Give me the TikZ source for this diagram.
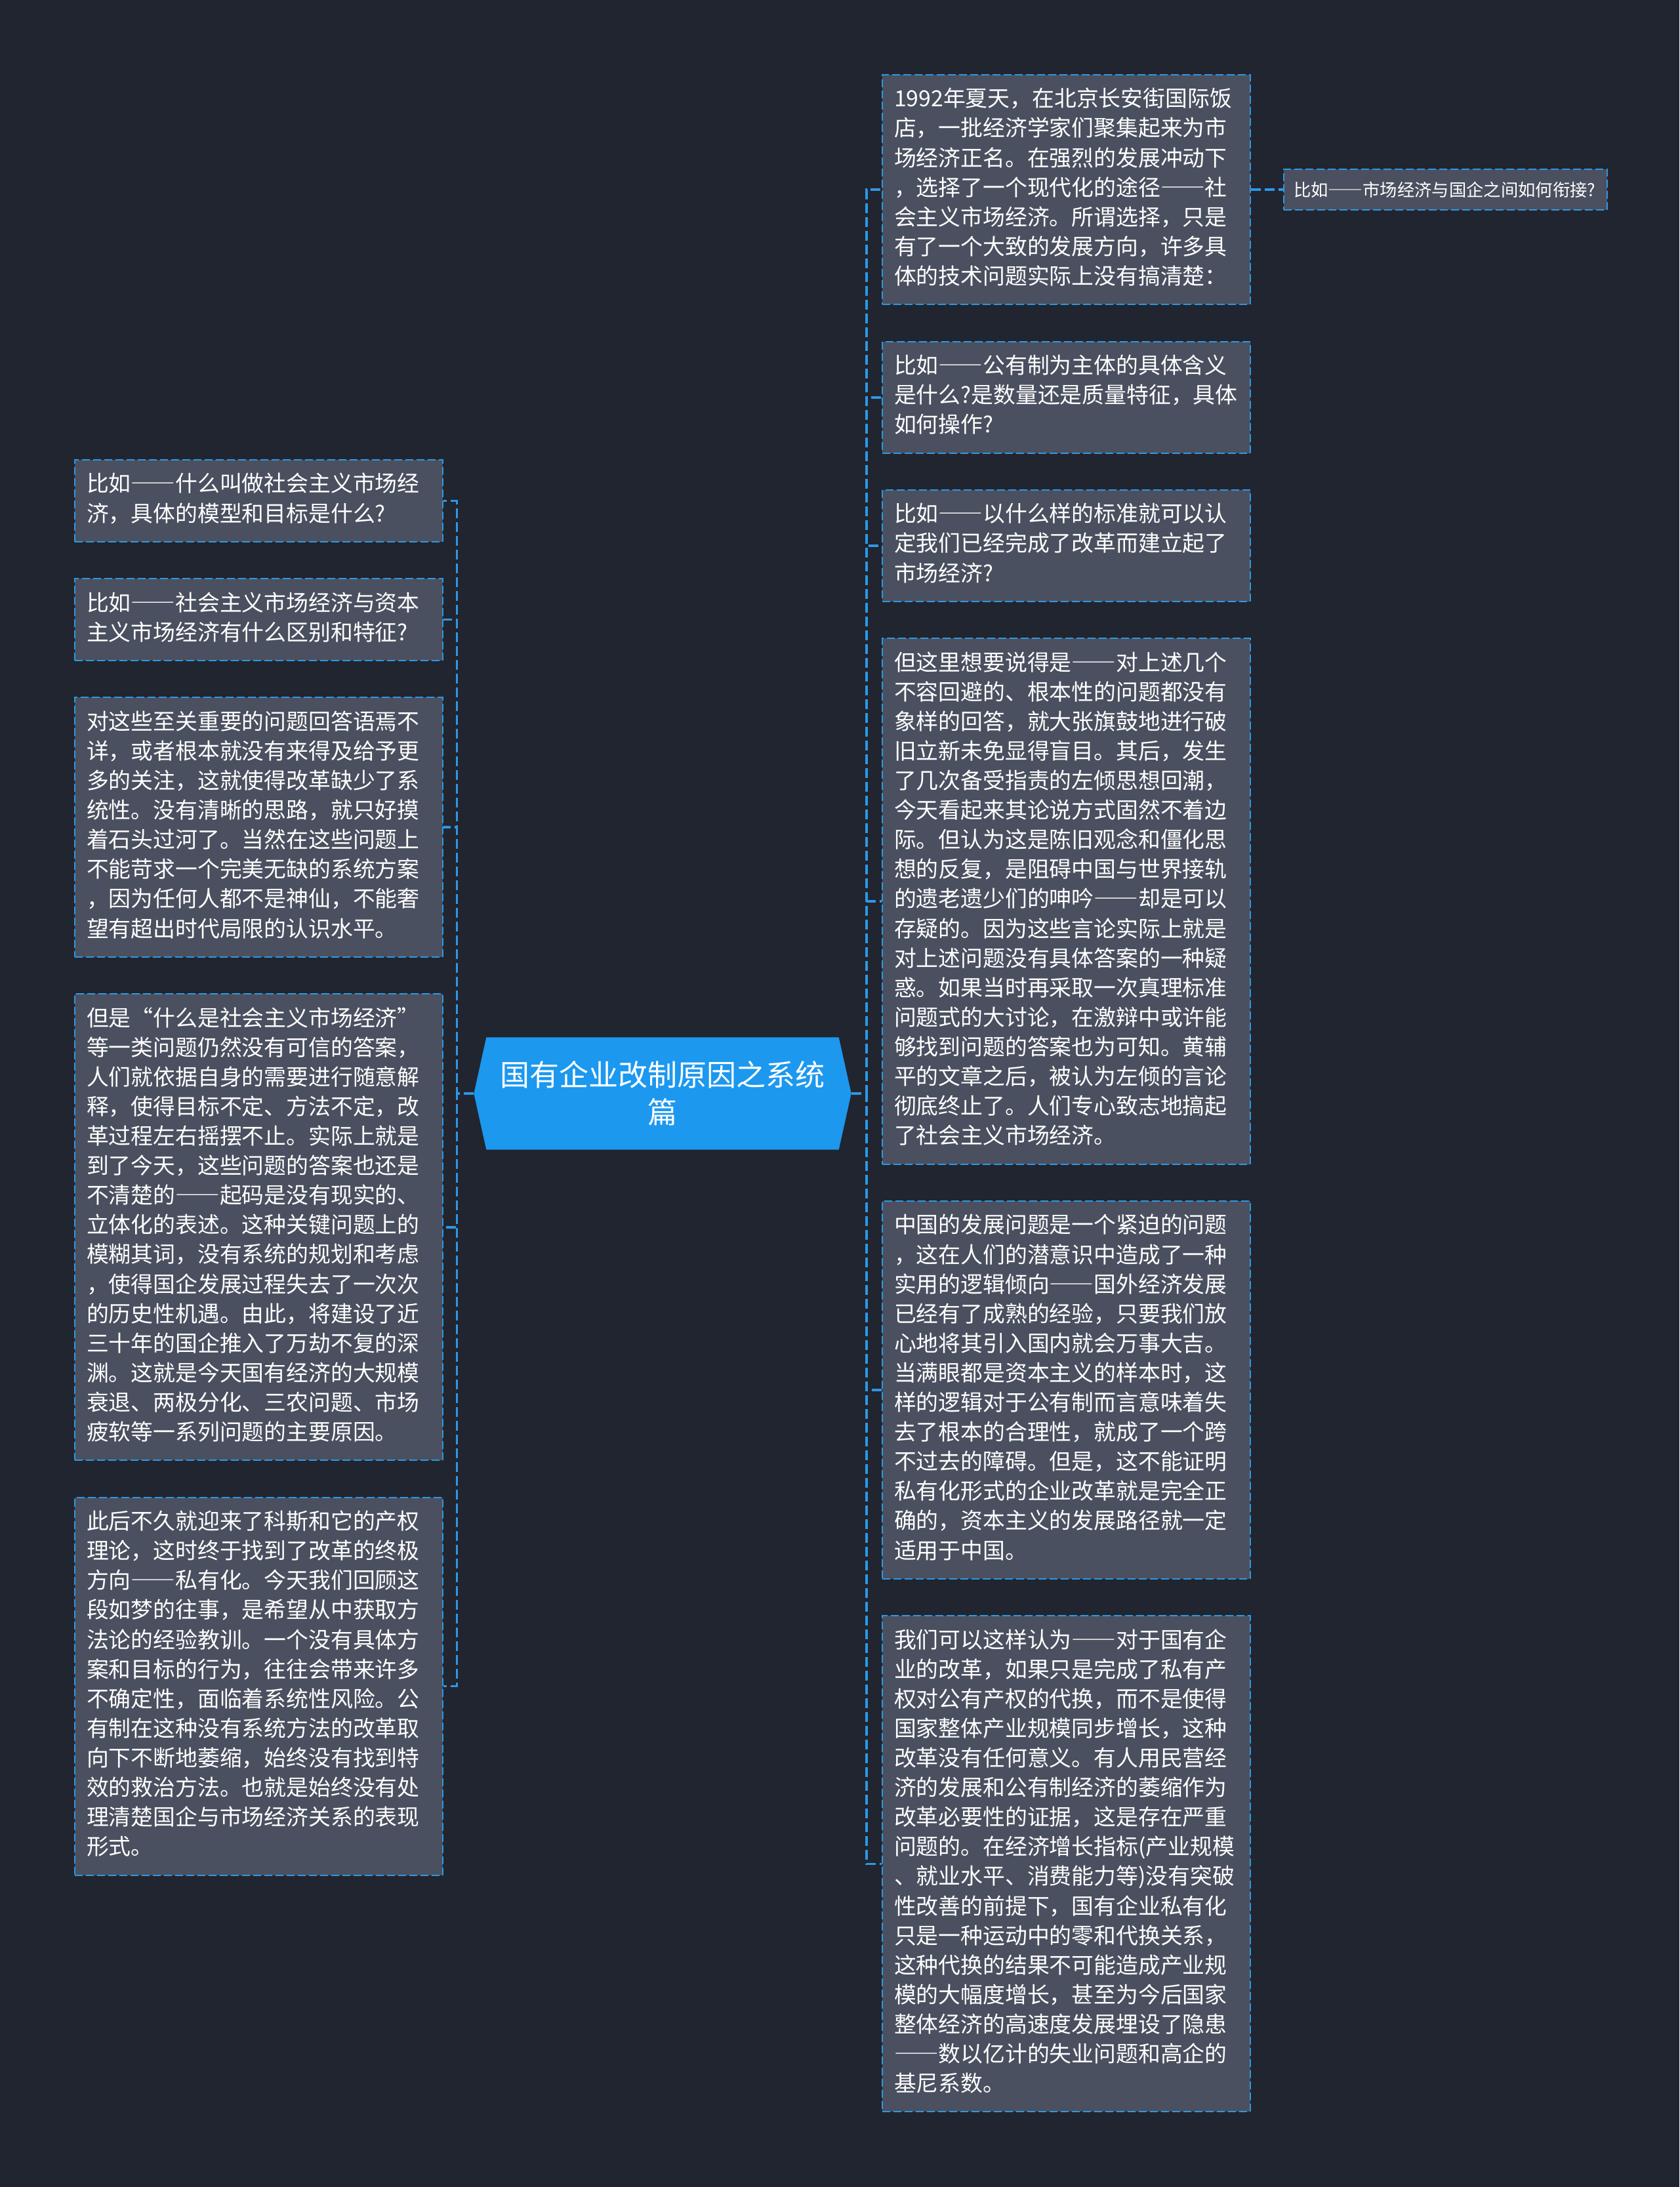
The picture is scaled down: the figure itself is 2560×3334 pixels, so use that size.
\documentclass[tikz,border=0pt]{standalone}
\usepackage{fontspec}
\usepackage{tikz}
\usetikzlibrary{
positioning,
calc,
backgrounds
}
\newfontfamily\cjk{Noto Sans CJK SC}
\newcommand\cjkdash{{\addfontfeature{CharacterWidth=Full}——}}
\definecolor{MapBg}{HTML}{21252F}
\definecolor{MapCard}{HTML}{4A505F}
\definecolor{MapEdge}{HTML}{2C98E6}
\definecolor{MapRoot}{HTML}{1C98EF}
\tikzset{
mapcard/.style={draw=MapEdge, fill=MapCard, line width=0.6pt, dash pattern=on 3.6pt off 1.5pt,
  align=left, text=white, text width=157.5pt, inner xsep=5.4pt, inner ysep=5.2pt,
  font=\cjk\fontsize{10.15pt}{13.53pt}\selectfont,
  execute at begin node=\strut, execute at end node=\strut},
mapsmall/.style={draw=MapEdge, fill=MapCard, line width=0.6pt, dash pattern=on 3.6pt off 1.5pt,
  align=left, text=white, text width=138.9pt, inner xsep=4.5pt, minimum height=18.6pt,
  font=\cjk\fontsize{7.9pt}{9.5pt}\selectfont},
maproot/.style={text=white, align=center, minimum width=172.2pt, minimum height=51pt, inner sep=0pt,
  font=\cjk\fontsize{13.5pt}{17pt}\selectfont},
maplink/.style={draw=MapEdge, line width=1.1pt, dash pattern=on 4.5pt off 1.8pt}
}
\begin{document}
\begin{tikzpicture}[x=0.3pt, y=-0.3pt, node distance=16.3pt and 14.7pt]
\begin{scope}[on background layer]
\fill[MapBg] (0,0) rectangle (2560,3334);
\end{scope}
\useasboundingbox (0,0) rectangle (2560,3334);

% centre
\node[maproot] (root) at (1010,1667) {国有企业改制原因之系统\\篇};
\begin{scope}[on background layer]
\fill[MapRoot] ([xshift=5.7pt]root.north west) -- ([xshift=-5.7pt]root.north east) -- (root.east)
  -- ([xshift=-5.7pt]root.south east) -- ([xshift=5.7pt]root.south west) -- (root.west) -- cycle;
\end{scope}

% right side
\node[mapcard, anchor=north west] (r1) at (1344,113) {1992年夏天，在北京长安街国际饭\\店，一批经济学家们聚集起来为市\\场经济正名。在强烈的发展冲动下\\，选择了一个现代化的途径\cjkdash 社\\会主义市场经济。所谓选择，只是\\有了一个大致的发展方向，许多具\\体的技术问题实际上没有搞清楚：};
\node[mapsmall, right=of r1] (r1a) {比如\cjkdash 市场经济与国企之间如何衔接?};
\node[mapcard, below=of r1] (r2) {比如\cjkdash 公有制为主体的具体含义\\是什么?是数量还是质量特征，具体\\如何操作?};
\node[mapcard, below=of r2] (r3) {比如\cjkdash 以什么样的标准就可以认\\定我们已经完成了改革而建立起了\\市场经济?};
\node[mapcard, below=of r3] (r4) {但这里想要说得是\cjkdash 对上述几个\\不容回避的、根本性的问题都没有\\象样的回答，就大张旗鼓地进行破\\旧立新未免显得盲目。其后，发生\\了几次备受指责的左倾思想回潮，\\今天看起来其论说方式固然不着边\\际。但认为这是陈旧观念和僵化思\\想的反复，是阻碍中国与世界接轨\\的遗老遗少们的呻吟\cjkdash 却是可以\\存疑的。因为这些言论实际上就是\\对上述问题没有具体答案的一种疑\\惑。如果当时再采取一次真理标准\\问题式的大讨论，在激辩中或许能\\够找到问题的答案也为可知。黄辅\\平的文章之后，被认为左倾的言论\\彻底终止了。人们专心致志地搞起\\了社会主义市场经济。};
\node[mapcard, below=of r4] (r5) {中国的发展问题是一个紧迫的问题\\，这在人们的潜意识中造成了一种\\实用的逻辑倾向\cjkdash 国外经济发展\\已经有了成熟的经验，只要我们放\\心地将其引入国内就会万事大吉。\\当满眼都是资本主义的样本时，这\\样的逻辑对于公有制而言意味着失\\去了根本的合理性，就成了一个跨\\不过去的障碍。但是，这不能证明\\私有化形式的企业改革就是完全正\\确的，资本主义的发展路径就一定\\适用于中国。};
\node[mapcard, below=of r5] (r6) {我们可以这样认为\cjkdash 对于国有企\\业的改革，如果只是完成了私有产\\权对公有产权的代换，而不是使得\\国家整体产业规模同步增长，这种\\改革没有任何意义。有人用民营经\\济的发展和公有制经济的萎缩作为\\改革必要性的证据，这是存在严重\\问题的。在经济增长指标(产业规模\\、就业水平、消费能力等)没有突破\\性改善的前提下，国有企业私有化\\只是一种运动中的零和代换关系，\\这种代换的结果不可能造成产业规\\模的大幅度增长，甚至为今后国家\\整体经济的高速度发展埋设了隐患\\\cjkdash 数以亿计的失业问题和高企的\\基尼系数。};

% left side
\node[mapcard, anchor=north west] (l1) at (113,700) {比如\cjkdash 什么叫做社会主义市场经\\济，具体的模型和目标是什么?};
\node[mapcard, below=of l1] (l2) {比如\cjkdash 社会主义市场经济与资本\\主义市场经济有什么区别和特征?};
\node[mapcard, below=of l2] (l3) {对这些至关重要的问题回答语焉不\\详，或者根本就没有来得及给予更\\多的关注，这就使得改革缺少了系\\统性。没有清晰的思路，就只好摸\\着石头过河了。当然在这些问题上\\不能苛求一个完美无缺的系统方案\\，因为任何人都不是神仙，不能奢\\望有超出时代局限的认识水平。};
\node[mapcard, below=of l3] (l4) {但是“什么是社会主义市场经济”\\等一类问题仍然没有可信的答案，\\人们就依据自身的需要进行随意解\\释，使得目标不定、方法不定，改\\革过程左右摇摆不止。实际上就是\\到了今天，这些问题的答案也还是\\不清楚的\cjkdash 起码是没有现实的、\\立体化的表述。这种关键问题上的\\模糊其词，没有系统的规划和考虑\\，使得国企发展过程失去了一次次\\的历史性机遇。由此，将建设了近\\三十年的国企推入了万劫不复的深\\渊。这就是今天国有经济的大规模\\衰退、两极分化、三农问题、市场\\疲软等一系列问题的主要原因。};
\node[mapcard, below=of l4] (l5) {此后不久就迎来了科斯和它的产权\\理论，这时终于找到了改革的终极\\方向\cjkdash 私有化。今天我们回顾这\\段如梦的往事，是希望从中获取方\\法论的经验教训。一个没有具体方\\案和目标的行为，往往会带来许多\\不确定性，面临着系统性风险。公\\有制在这种没有系统方法的改革取\\向下不断地萎缩，始终没有找到特\\效的救治方法。也就是始终没有处\\理清楚国企与市场经济关系的表现\\形式。};

\coordinate (rjoint) at ($(root.east)+(23,0)$);
\coordinate (ljoint) at ($(root.west)+(-26,0)$);

\draw[maplink] (root.east) -- (rjoint) |- (r1.west);
\draw[maplink] (root.east) -- (rjoint) |- (r2.west);
\draw[maplink] (root.east) -- (rjoint) |- (r3.west);
\draw[maplink] (root.east) -- (rjoint) |- (r4.west);
\draw[maplink] (root.east) -- (rjoint) |- (r5.west);
\draw[maplink] (root.east) -- (rjoint) |- (r6.west);
\draw[maplink] (r1.east) -- (r1a.west);
\draw[maplink] (root.west) -- (ljoint) |- (l1.east);
\draw[maplink] (root.west) -- (ljoint) |- (l2.east);
\draw[maplink] (root.west) -- (ljoint) |- (l3.east);
\draw[maplink] (root.west) -- (ljoint) |- (l4.east);
\draw[maplink] (root.west) -- (ljoint) |- (l5.east);
\end{tikzpicture}
\end{document}
